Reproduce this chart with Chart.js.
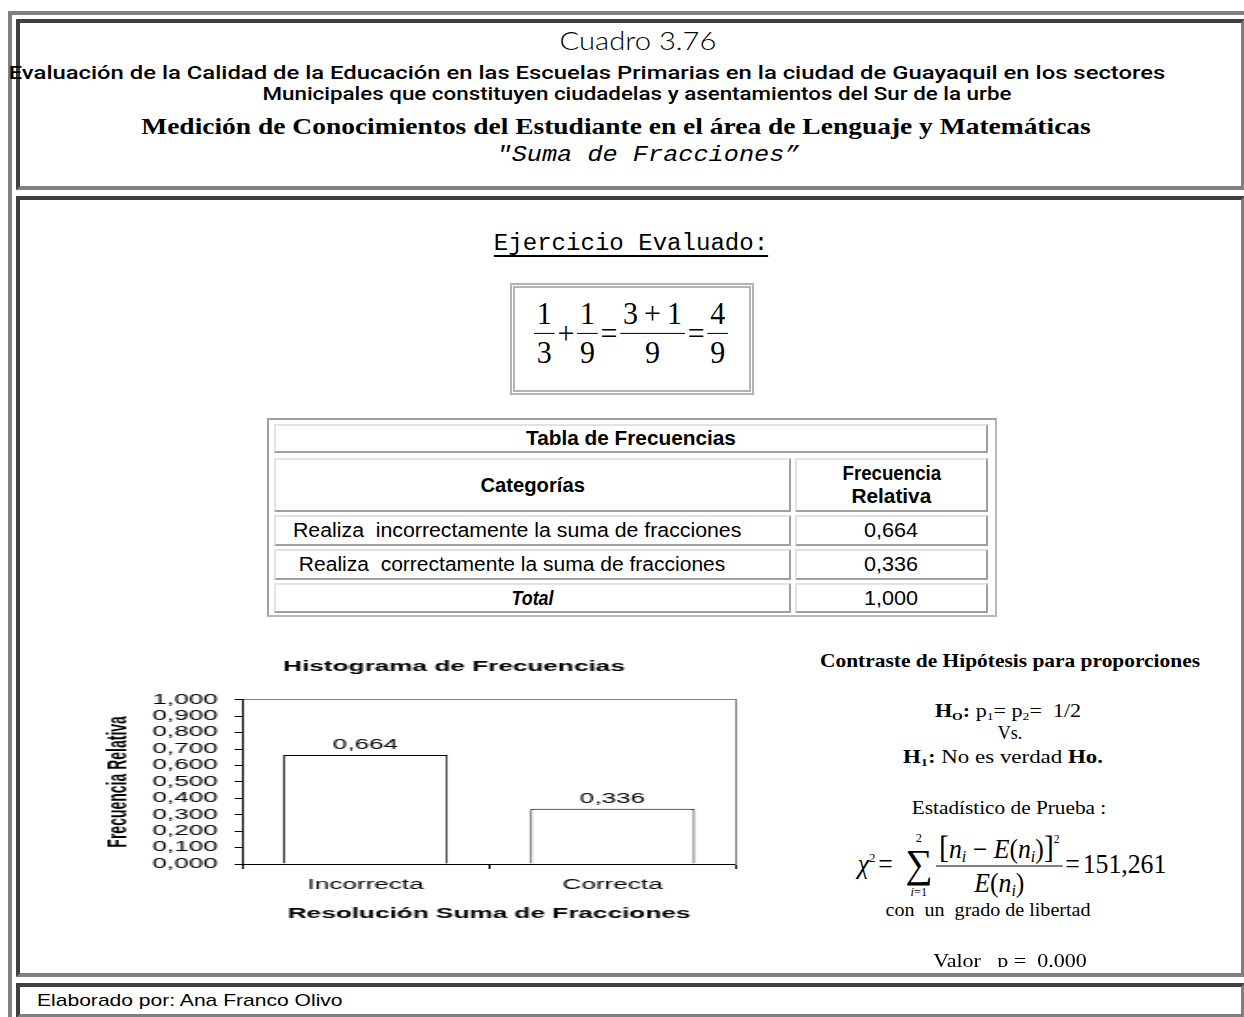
<!DOCTYPE html>
<html>
<head>
<meta charset="utf-8">
<script src="https://cdn.jsdelivr.net/npm/chart.js@4"></script>
<style>
html, body { margin: 0; padding: 0; background: #fff; overflow: hidden; width: 1244px; height: 1017px; }
.box { position: absolute; box-sizing: border-box; }
.cell { border-style: solid; border-width: 4px; border-color: #404040 #808080 #808080 #404040; }
.t { position: absolute; white-space: nowrap; line-height: 1; color: #000; transform-origin: 50% 50%; }
.serif { font-family: "Liberation Serif", "Times New Roman", serif; }
.sans { font-family: "Liberation Sans", Arial, sans-serif; }
.mono { font-family: "Liberation Mono", "Courier New", monospace; }
.tw { font-family: Lato, "Liberation Sans", sans-serif; }
.ro { font-family: Roboto, "Liberation Sans", sans-serif; }
sub, sup { font-size: .62em; line-height: 0; }
sub { vertical-align: -0.25em; }
sup { vertical-align: 0.55em; }
.tc { position: absolute; box-sizing: border-box; border: 2px solid; border-color: #e2e2e2 #a0a0a0 #a0a0a0 #e2e2e2;
      display: flex; align-items: center; justify-content: center; text-align: center;
      font-family: "Liberation Sans", Arial, sans-serif; font-size: 20px; line-height: 1.15; }
.tc span { display: inline-block; white-space: nowrap; }
.tc.left { justify-content: flex-start; padding-left: 17px; }
.tc.left span { transform-origin: 0 50%; }
.fr { display: inline-flex; flex-direction: column; align-items: center; line-height: 1.05; }
.fr > span:first-child { border-bottom: 1px solid #000; padding: 0 3px 2px; }
.fr > span:last-child { padding: 2px 3px 0; }
.op { padding: 0 3px; }
.sum { display: inline-flex; flex-direction: column; align-items: center; margin: 0 4px 0 10px; }
.sum .lim { font-size: 13px; line-height: 13px; }
.sum .sig { font-size: 40px; line-height: 36px; height: 37px; }
</style>
</head>
<body>
<!-- marcos -->
<div class="box" style="left:8px;top:11px;width:1400px;height:1100px;border-left:4px solid #808080;border-top:4px solid #808080;"></div>
<div class="box cell" style="left:16px;top:19px;width:1229px;height:171px;"></div>
<div class="box cell" style="left:16px;top:196px;width:1229px;height:781px;"></div>
<div class="box cell" style="left:16px;top:983px;width:1229px;height:35px;"></div>

<!-- encabezado -->
<div class="t tw" data-cx="638" data-b="50" data-w="157" style="font-size:26px;font-weight:300">Cuadro 3.76</div>
<div class="t ro" data-cx="587" data-b="79" data-w="1157" style="font-size:19px;font-weight:500">Evaluación de la Calidad de la Educación en las Escuelas Primarias en la ciudad de Guayaquil en los sectores</div>
<div class="t ro" data-cx="637" data-b="100" data-w="749" style="font-size:19px;font-weight:500">Municipales que constituyen ciudadelas y asentamientos del Sur de la urbe</div>
<div class="t serif" data-cx="616" data-b="134" data-w="949" style="font-size:24px;font-weight:bold">Medición de Conocimientos del Estudiante en el área de Lenguaje y Matemáticas</div>
<div class="t mono" data-cx="648" data-b="162" data-w="303" style="font-size:22px;font-style:italic">"Suma de Fracciones”</div>

<!-- ejercicio -->
<div class="t mono" data-cx="631" data-b="251" data-w="274" style="font-size:23px;text-decoration:underline;text-underline-offset:5px">Ejercicio Evaluado:</div>
<div class="box" style="left:510px;top:283px;width:244px;height:112px;border:5px double #b4b4b4;"></div>
<div class="t serif" id="f1" data-cx="631" data-cy="333" data-w="194" style="font-size:32px;display:flex;align-items:center;">
  <span class="fr"><span>1</span><span>3</span></span><span class="op">+</span>
  <span class="fr"><span>1</span><span>9</span></span><span class="op">=</span>
  <span class="fr"><span>3&thinsp;+&thinsp;1</span><span>9</span></span><span class="op">=</span>
  <span class="fr"><span>4</span><span>9</span></span>
</div>

<!-- tabla -->
<div class="box" style="left:267px;top:418px;width:730px;height:199px;border:2px solid;border-color:#a0a0a0 #b8b8b8 #b8b8b8 #a0a0a0;"></div>
<div class="tc" style="left:274px;top:424px;width:714px;height:29px;font-weight:bold"><span data-w="210">Tabla de Frecuencias</span></div>
<div class="tc" style="left:274px;top:458px;width:517px;height:54px;font-weight:bold"><span data-w="104">Categorías</span></div>
<div class="tc" style="left:795px;top:458px;width:193px;height:54px;font-weight:bold;flex-direction:column"><span data-w="99">Frecuencia</span><span data-w="80">Relativa</span></div>
<div class="tc left" style="left:274px;top:515px;width:517px;height:31px"><span data-w="448">Realiza&nbsp; incorrectamente la suma de fracciones</span></div>
<div class="tc" style="left:795px;top:515px;width:193px;height:31px"><span data-w="54">0,664</span></div>
<div class="tc left" style="left:274px;top:549px;width:517px;height:31px"><span data-w="432">&nbsp;Realiza&nbsp; correctamente la suma de fracciones</span></div>
<div class="tc" style="left:795px;top:549px;width:193px;height:31px"><span data-w="54">0,336</span></div>
<div class="tc" style="left:274px;top:583px;width:517px;height:30px;font-weight:bold;font-style:italic"><span data-w="42">Total</span></div>
<div class="tc" style="left:795px;top:583px;width:193px;height:30px"><span data-w="54">1,000</span></div>

<!-- histograma -->
<canvas id="histograma" width="379" height="280" style="position:absolute;left:100px;top:645px;width:708px;height:280px;"></canvas>

<!-- contraste -->
<div class="t serif" data-cx="1010" data-b="667" data-w="380" style="font-size:19px;font-weight:bold">Contraste de Hipótesis para proporciones</div>
<div class="t serif" data-cx="1008" data-b="717" data-w="146" style="font-size:18px"><b>H<sub>O</sub>:</b> p<sub>1</sub>= p<sub>2</sub>=&nbsp; 1/2</div>
<div class="t serif" data-cx="1010" data-b="739" style="font-size:18px">Vs.</div>
<div class="t serif" data-cx="1003" data-b="763" data-w="200" style="font-size:18px"><b>H<sub>1</sub>:</b> No es verdad <b>Ho.</b></div>
<div class="t serif" data-cx="1009" data-b="814" data-w="194" style="font-size:18px">Estadístico de Prueba :</div>
<div class="t serif" id="f2" data-cx="1012" data-cy="864" data-w="309" style="font-size:27px;display:flex;align-items:center;">
  <span><i>χ</i><sup style="font-size:.5em;vertical-align:.8em">2</sup></span><span class="op">=</span>
  <span class="sum"><span class="lim" style="margin-bottom:2px">2</span><span class="sig">∑</span><span class="lim" style="margin-top:2px"><i>i</i>=1</span></span>
  <span class="fr"><span><span style="font-size:1.15em">[</span><i>n</i><sub><i>i</i></sub> − <i>E</i>(<i>n</i><sub><i>i</i></sub>)<span style="font-size:1.15em">]</span><sup style="font-size:.45em;vertical-align:1.2em">2</sup></span><span><i>E</i>(<i>n</i><sub><i>i</i></sub>)</span></span>
  <span class="op">=</span><span>151,261</span>
</div>
<div class="t serif" data-cx="988" data-b="916" data-w="205" style="font-size:18px">con&nbsp; un&nbsp; grado de libertad</div>
<div style="position:absolute;left:0;top:0;width:1244px;height:967px;overflow:hidden;">
  <div class="t serif" data-cx="1010" data-b="967" data-w="154" style="font-size:19px">Valor &nbsp; p =&nbsp; 0.000</div>
</div>

<!-- pie -->
<div class="t sans" data-x="37" data-b="1006" data-w="306" style="font-size:17px">Elaborado por: Ana Franco Olivo</div>

<script>
// datos del histograma
const categorias = ['Incorrecta', 'Correcta'];
const frecuenciaRelativa = [0.664, 0.336];
const ejeYMin = 0;
const ejeYMax = 1;
const ejeYPaso = 0.1;

const fuente = '"Liberation Sans", Arial, sans-serif';
const coma = v => Number(v).toFixed(3).replace('.', ',');

const etiquetasBarras = {
  id: 'etiquetasBarras',
  afterDatasetsDraw(chart) {
    const ctx = chart.ctx;
    const meta = chart.getDatasetMeta(0);
    ctx.save();
    ctx.font = '14px ' + fuente;
    ctx.fillStyle = '#000';
    ctx.textAlign = 'center';
    ctx.textBaseline = 'alphabetic';
    meta.data.forEach(function (bar, i) {
      ctx.fillText(coma(frecuenciaRelativa[i]), bar.x, bar.y - 6);
    });
    ctx.restore();
  }
};

new Chart(document.getElementById('histograma'), {
  type: 'bar',
  data: {
    labels: categorias,
    datasets: [{
      data: frecuenciaRelativa,
      backgroundColor: '#fff',
      borderColor: '#000',
      borderWidth: 1,
      categoryPercentage: 1,
      barPercentage: 0.666
    }]
  },
  options: {
    responsive: false,
    animation: false,
    layout: { padding: 0 },
    plugins: {
      legend: { display: false },
      tooltip: { enabled: false },
      title: {
        display: true,
        text: 'Histograma de Frecuencias',
        color: '#000',
        font: { family: fuente, size: 14, weight: 'bold' },
        padding: { top: 14, bottom: 24 }
      }
    },
    scales: {
      x: {
        grid: { display: true, drawOnChartArea: false, drawTicks: true, tickLength: 5, color: '#000', offset: true },
        border: { display: true, color: '#000', width: 1 },
        ticks: { color: '#000', font: { family: fuente, size: 14 }, padding: 8, maxRotation: 0 },
        title: {
          display: true, text: 'Resolución Suma de Fracciones', color: '#000',
          font: { family: fuente, size: 14, weight: 'bold' }, padding: { top: 0, bottom: 2 }
        },
        afterFit: function (s) { s.height = 61; }
      },
      xArriba: {
        type: 'category', position: 'top',
        grid: { display: false }, ticks: { display: false },
        border: { display: true, color: '#808080', width: 1 },
        afterFit: function (s) { s.height = 0; }
      },
      y: {
        min: ejeYMin, max: ejeYMax,
        ticks: { stepSize: ejeYPaso, autoSkip: false, color: '#000', font: { family: fuente, size: 14 }, padding: 9, callback: coma },
        grid: { display: true, drawOnChartArea: false, tickLength: 4, color: '#000' },
        border: { display: true, color: '#000', width: 1 },
        title: {
          display: true, text: 'Frecuencia Relativa', color: '#000',
          font: { family: fuente, size: 14, weight: 'bold' }, padding: { top: 2, bottom: 0 }
        },
        afterFit: function (s) { s.width = 76; }
      },
      yDerecha: {
        position: 'right',
        grid: { display: false }, ticks: { display: false },
        border: { display: true, color: '#808080', width: 1 },
        afterFit: function (s) { s.width = 38.5; }
      }
    }
  },
  plugins: [etiquetasBarras]
});

// colocar textos de la página
const BASE = { serif: 0.8375, sans: 0.8465, mono: 0.767, tw: 0.887, ro: 0.842 };
function colocar() {
  document.querySelectorAll('.t').forEach(function (el) {
    const fs = parseFloat(getComputedStyle(el).fontSize);
    const fam = Object.keys(BASE).find(c => el.classList.contains(c));
    const s = el.dataset.w ? (+el.dataset.w) / el.offsetWidth : 1;
    let tr = '';
    if (el.dataset.cx !== undefined) { el.style.left = el.dataset.cx + 'px'; tr = 'translateX(-50%) '; }
    else { el.style.left = el.dataset.x + 'px'; el.style.transformOrigin = '0 50%'; }
    if (el.dataset.b !== undefined) el.style.top = (el.dataset.b - BASE[fam] * fs) + 'px';
    if (el.dataset.cy !== undefined) { el.style.top = el.dataset.cy + 'px'; tr += 'translateY(-50%) '; }
    el.style.transform = tr + 'scaleX(' + s + ')';
  });
  document.querySelectorAll('.tc span[data-w]').forEach(function (sp) {
    sp.style.transform = 'scaleX(' + ((+sp.dataset.w) / sp.offsetWidth) + ')';
  });
}
colocar();
if (document.fonts && document.fonts.ready) document.fonts.ready.then(colocar);
</script>
</body>
</html>
